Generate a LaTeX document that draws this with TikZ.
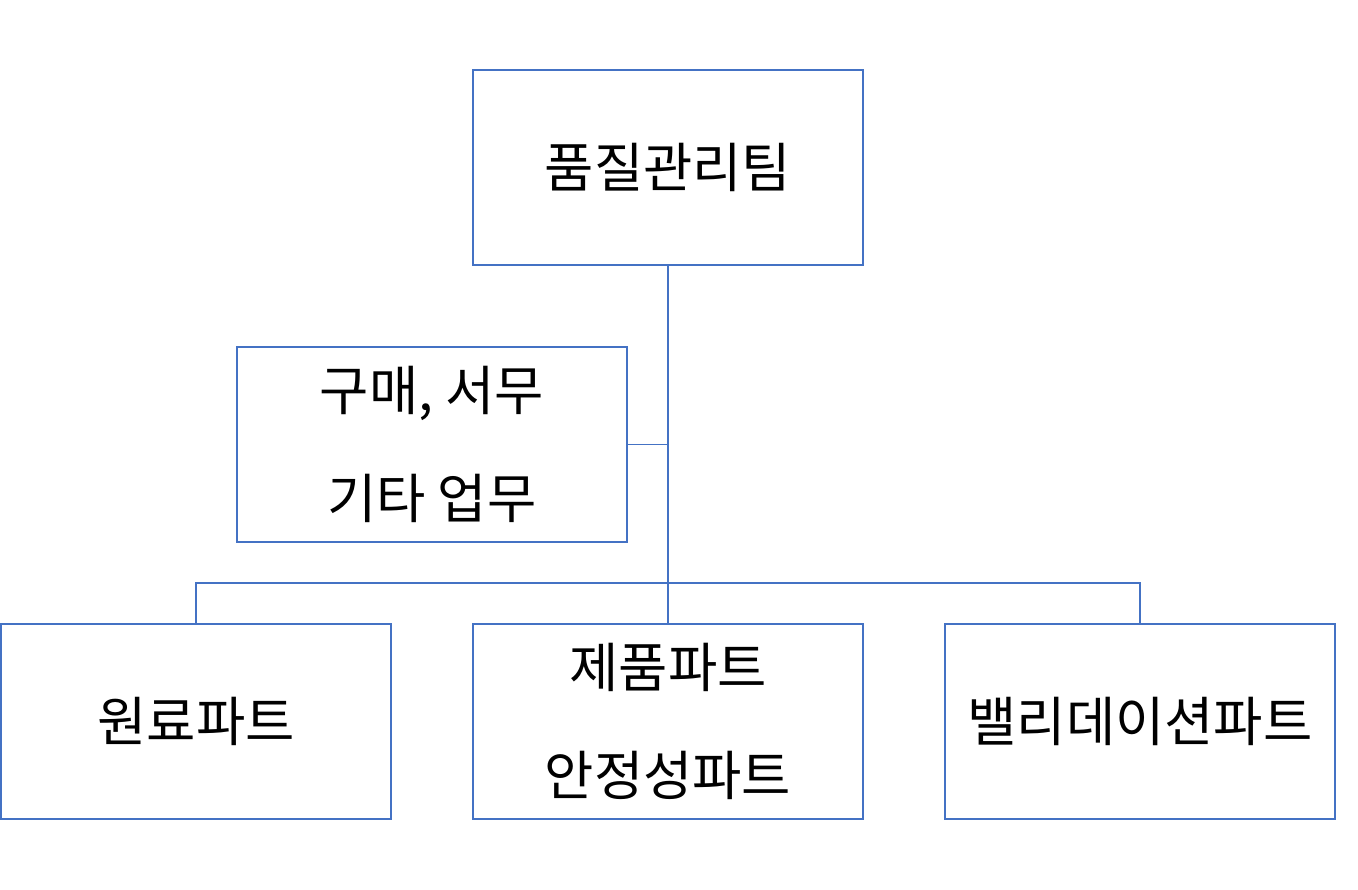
\documentclass[tikz,border=0pt]{standalone}
\usepackage{fontspec}
\setmainfont{Noto Sans CJK KR}
\usetikzlibrary{positioning}
\usetikzlibrary{calc}

\definecolor{boxblue}{HTML}{4472C4}

\begin{document}
\begin{tikzpicture}[x=0.02cm,y=-0.02cm,
    part/.style={draw=boxblue, line width=0.8pt, minimum width=7.8cm, minimum height=3.9cm,
      inner sep=0pt, outer sep=0pt, align=center, font=\fontsize{30.5pt}{61pt}\selectfont},
    link/.style={draw=boxblue, line width=0.8pt}]
            \useasboundingbox (0,0) rectangle (1358,889);
            \node[part] (team)  at (668,167.5) {품질관리팀};
            \node[part] (admin) at (432,444.5) {구매, 서무\\기타 업무};
            \node[part] (raw)   at (196,721.5) {원료파트};
            \node[part] (prod)  at (668,721.5) {제품파트\\안정성파트};
            \node[part] (valid) at (1140,721.5) {밸리데이션파트};
            \coordinate (bus) at (668,583);
            \path[link]
            (team.south) -- (prod.north)
            (admin.east) -- (admin.east -| team.south)
            (raw.north) |- (bus) -| (valid.north);
        \end{tikzpicture}
\end{document}
